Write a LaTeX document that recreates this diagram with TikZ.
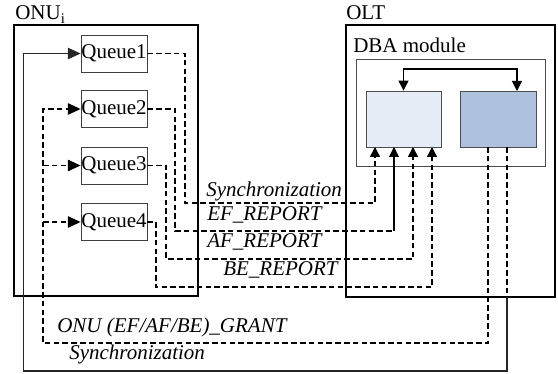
\documentclass[tikz,border=0pt]{standalone}
\usepackage{fontspec}
\setmainfont{Liberation Serif}
\usetikzlibrary{arrows.meta,calc}
\begin{document}
\begin{tikzpicture}[x=0.75pt,y=-0.75pt,
  every node/.style={font=\fontsize{15.75}{18}\selectfont},
  frame/.style={draw=black,line width=1.5pt,inner sep=0pt},
  queue/.style={draw=black!75,line width=0.6pt,minimum width=49.5pt,minimum height=27.75pt,inner sep=0pt},
  dbabox/.style={draw=black!70,line width=0.6pt,inner sep=0pt},
  msg/.style={draw=black,dash pattern=on 4.2pt off 2.4pt,line width=1.1pt},
  solidl/.style={draw=black,line width=0.8pt},
  tip/.style={-{Triangle[length=7.5pt,width=7.5pt]}},
  qtip/.style={-{Triangle[length=9.5pt,width=8.5pt]}},
  lab/.style={font=\fontsize{15.75}{18}\selectfont\itshape,inner sep=0pt,anchor=base west},
  ttl/.style={inner sep=0pt,anchor=base west}
]
\useasboundingbox (0,0) rectangle (558,374);
% frames
\node[frame,minimum width=138pt,minimum height=203.25pt] (onu) at (106,160.5) {};
\node[frame,minimum width=156.75pt,minimum height=204pt] (olt) at (450.5,161) {};
\node[dbabox,minimum width=141.75pt,minimum height=80.25pt] (dba) at (450.5,112.5) {};
\node[dbabox,fill={rgb,255:red,230;green,237;blue,246},minimum width=56.25pt,minimum height=42pt] (lbox) at (403.5,119) {};
\node[dbabox,fill={rgb,255:red,174;green,193;blue,222},minimum width=57pt,minimum height=42pt] (rbox) at (498,119) {};
% titles
\node[ttl] (onut) at (15,20) {ONU\textsubscript{i}};
\node[ttl] (oltt) at (346,20) {OLT};
\node[ttl] (dbat) at (353,53) {DBA module};
% queues
\node[queue] (q1) at (114,53.5) {Queue1};
\node[queue] (q2) at (114,109) {Queue2};
\node[queue] (q3) at (114,165.5) {Queue3};
\node[queue] (q4) at (114,222) {Queue4};
% coordinates
\coordinate (i1) at (375,147);
\coordinate (i2) at (394,147);
\coordinate (i3) at (413,147);
\coordinate (i4) at (432,147);
\coordinate (g0) at (488,147);
\coordinate (s0) at (507,147);
\coordinate (gx) at (43,343);
\coordinate (sx) at (23.5,371);
\coordinate (rt) at (517,91);
% DBA internal
\draw[solidl,{Triangle[length=7.5pt,width=7.5pt]}-{Triangle[length=7.5pt,width=7.5pt]}] (lbox.north) -- (403.5,69) -- (517,69) -- (rt);
% reports
\draw[msg,tip] (q1.east) -| (185,203) -- (375,203) -- (i1);
\draw[msg] (q2.east) -| (175,231) -- (394,231);
\draw[solidl,tip] (394,231) -- (i2);
\draw[msg,tip] (q3.east) -| (166,259) -- (413,259) -- (i3);
\draw[msg,tip] (q4.east) -| (156,287) -- (432,287) -- (i4);
% grant
\draw[msg,qtip] (g0) |- (gx) |- (q2.west);
\draw[msg,qtip] (gx |- q3.west) -- (q3.west);
\draw[msg,qtip] (gx |- q4.west) -- (q4.west);
% synchronization
\draw[msg] (s0) -- (507,297);
\draw[solidl,draw=black!85,qtip] (507,297) -- (507,371) -| (sx |- q1.west) -- (q1.west);
% labels
\node[lab] (l1) at (206,197) {Synchronization};
\node[lab] (l2) at (207,221) {EF\_REPORT};
\node[lab] (l3) at (207,248) {AF\_REPORT};
\node[lab] (l4) at (223,276) {BE\_REPORT};
\node[lab] (l5) at (57,333) {ONU (EF/AF/BE)\_GRANT};
\node[lab] (l6) at (69,360) {Synchronization};
\end{tikzpicture}
\end{document}
